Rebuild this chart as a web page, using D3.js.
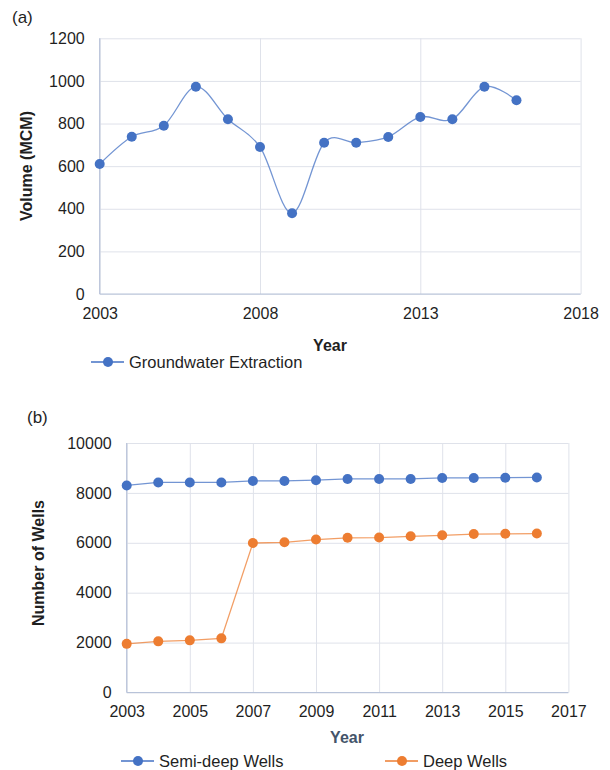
<!DOCTYPE html>
<html>
<head>
<meta charset="utf-8">
<script src="https://cdn.jsdelivr.net/npm/d3@7/dist/d3.min.js"></script>
<style>
  html, body { margin: 0; padding: 0; background: #fff; }
  svg text { font-family: "Liberation Sans", Arial, sans-serif; }
</style>
</head>
<body>
<svg id="chart" width="610" height="770"></svg>
<script>
// ---- data ----
const years = [2003, 2004, 2005, 2006, 2007, 2008, 2009, 2010, 2011, 2012, 2013, 2014, 2015, 2016];
const extraction = [610, 738, 790, 973, 820, 690, 379, 710, 710, 737, 831, 820, 973, 909];
const semiDeepWells = [8300, 8420, 8420, 8420, 8480, 8480, 8510, 8560, 8560, 8560, 8600, 8600, 8610, 8620];
const deepWells = [1950, 2050, 2090, 2170, 5990, 6020, 6130, 6200, 6210, 6260, 6300, 6350, 6360, 6370];

const extractionYearTicks = [2003, 2008, 2013, 2018];
const volumeTicks = [0, 200, 400, 600, 800, 1000, 1200];
const wellYearTicks = [2003, 2005, 2007, 2009, 2011, 2013, 2015, 2017];
const wellCountTicks = [0, 2000, 4000, 6000, 8000, 10000];

// ---- style ----
const BLUE = "#4472C4";
const ORANGE = "#ED7D31";
const GRID = "#dfe2ea";
const AXIS = "#b8c3d9";
const TEXT = "#1f1f1f";
const FONT = 16;

const svg = d3.select("#chart");

function styleAxisText(g) {
  g.selectAll("text").attr("fill", TEXT).style("font-size", FONT + "px");
  g.select(".domain").remove();
  g.selectAll(".tick line").remove();
}

function drawFrame(g, x, y, xTicks, yTicks, xPad) {
  const [x0, x1] = x.range();
  const [y0, y1] = y.range();
  // horizontal gridlines
  g.append("g")
    .attr("transform", `translate(${x0},0)`)
    .call(d3.axisLeft(y).tickValues(yTicks).tickSize(-(x1 - x0)).tickFormat(""))
    .call(a => a.select(".domain").remove())
    .call(a => a.selectAll(".tick line").attr("stroke", GRID).attr("stroke-width", 1));
  // vertical gridlines
  g.append("g")
    .attr("transform", `translate(0,${y0})`)
    .call(d3.axisBottom(x).tickValues(xTicks).tickSize(-(y0 - y1)).tickFormat(""))
    .call(a => a.select(".domain").remove())
    .call(a => a.selectAll(".tick line").attr("stroke", GRID).attr("stroke-width", 1));
  // axis lines
  g.append("line").attr("x1", x0).attr("x2", x0).attr("y1", y0).attr("y2", y1)
    .attr("stroke", AXIS).attr("stroke-width", 1.2);
  g.append("line").attr("x1", x0).attr("x2", x1).attr("y1", y0).attr("y2", y0)
    .attr("stroke", AXIS).attr("stroke-width", 1.2);
  // tick labels
  g.append("g")
    .attr("transform", `translate(${x0},0)`)
    .call(d3.axisLeft(y).tickValues(yTicks).tickSize(0).tickPadding(15).tickFormat(d3.format("d")))
    .call(styleAxisText);
  g.append("g")
    .attr("transform", `translate(0,${y0})`)
    .call(d3.axisBottom(x).tickValues(xTicks).tickSize(0).tickPadding(xPad).tickFormat(d3.format("d")))
    .call(styleAxisText);
}

function drawSeries(g, x, y, values, color, curve) {
  const pts = years.map((yr, i) => [yr, values[i]]);
  g.append("path")
    .datum(pts)
    .attr("fill", "none")
    .attr("stroke", color)
    .attr("stroke-opacity", 0.75)
    .attr("stroke-width", 1.3)
    .attr("d", d3.line().x(d => x(d[0])).y(d => y(d[1])).curve(curve));
  g.append("g").selectAll("circle")
    .data(pts)
    .join("circle")
    .attr("cx", d => x(d[0]))
    .attr("cy", d => y(d[1]))
    .attr("r", 5)
    .attr("fill", color);
}

function legendItem(g, lx, ly, color, label) {
  g.append("line").attr("x1", lx).attr("x2", lx + 33).attr("y1", ly).attr("y2", ly)
    .attr("stroke", color).attr("stroke-width", 1.3);
  g.append("circle").attr("cx", lx + 17).attr("cy", ly).attr("r", 5).attr("fill", color);
  g.append("text").attr("x", lx + 38).attr("y", ly + 6)
    .attr("fill", TEXT).style("font-size", "16.5px").text(label);
}

// ---- (a) groundwater extraction ----
const gA = svg.append("g");
const xA = d3.scaleLinear().domain([2003, 2018]).range([99.7, 580.6]);
const yA = d3.scaleLinear().domain([0, 1200]).range([294, 38.3]);
gA.append("text").attr("x", 12).attr("y", 23).attr("fill", TEXT)
  .style("font-size", "17px").text("(a)");
drawFrame(gA, xA, yA, extractionYearTicks, volumeTicks, 14);
drawSeries(gA, xA, yA, extraction, BLUE, d3.curveCardinal.tension(0));
gA.append("text")
  .attr("transform", "translate(32,166) rotate(-90)")
  .attr("text-anchor", "middle")
  .attr("fill", TEXT).style("font-size", FONT + "px").style("font-weight", "bold")
  .text("Volume (MCM)");
gA.append("text").attr("x", 330).attr("y", 351).attr("text-anchor", "middle")
  .attr("fill", TEXT).style("font-size", FONT + "px").style("font-weight", "bold")
  .text("Year");
legendItem(gA, 91, 362, BLUE, "Groundwater Extraction");

// ---- (b) number of wells ----
const gB = svg.append("g");
const xB = d3.scaleLinear().domain([2003, 2017]).range([126.7, 568.4]);
const yB = d3.scaleLinear().domain([0, 10000]).range([692.5, 443]);
gB.append("text").attr("x", 27).attr("y", 423).attr("fill", TEXT)
  .style("font-size", "17px").text("(b)");
drawFrame(gB, xB, yB, wellYearTicks, wellCountTicks, 13);
drawSeries(gB, xB, yB, semiDeepWells, BLUE, d3.curveLinear);
drawSeries(gB, xB, yB, deepWells, ORANGE, d3.curveLinear);
gB.append("text")
  .attr("transform", "translate(44,563) rotate(-90)")
  .attr("text-anchor", "middle")
  .attr("fill", TEXT).style("font-size", FONT + "px").style("font-weight", "bold")
  .text("Number of Wells");
gB.append("text").attr("x", 347).attr("y", 743).attr("text-anchor", "middle")
  .attr("fill", "#44546A").style("font-size", FONT + "px").style("font-weight", "bold")
  .text("Year");
legendItem(gB, 121, 761, BLUE, "Semi-deep Wells");
legendItem(gB, 385, 761, ORANGE, "Deep Wells");
</script>
</body>
</html>
